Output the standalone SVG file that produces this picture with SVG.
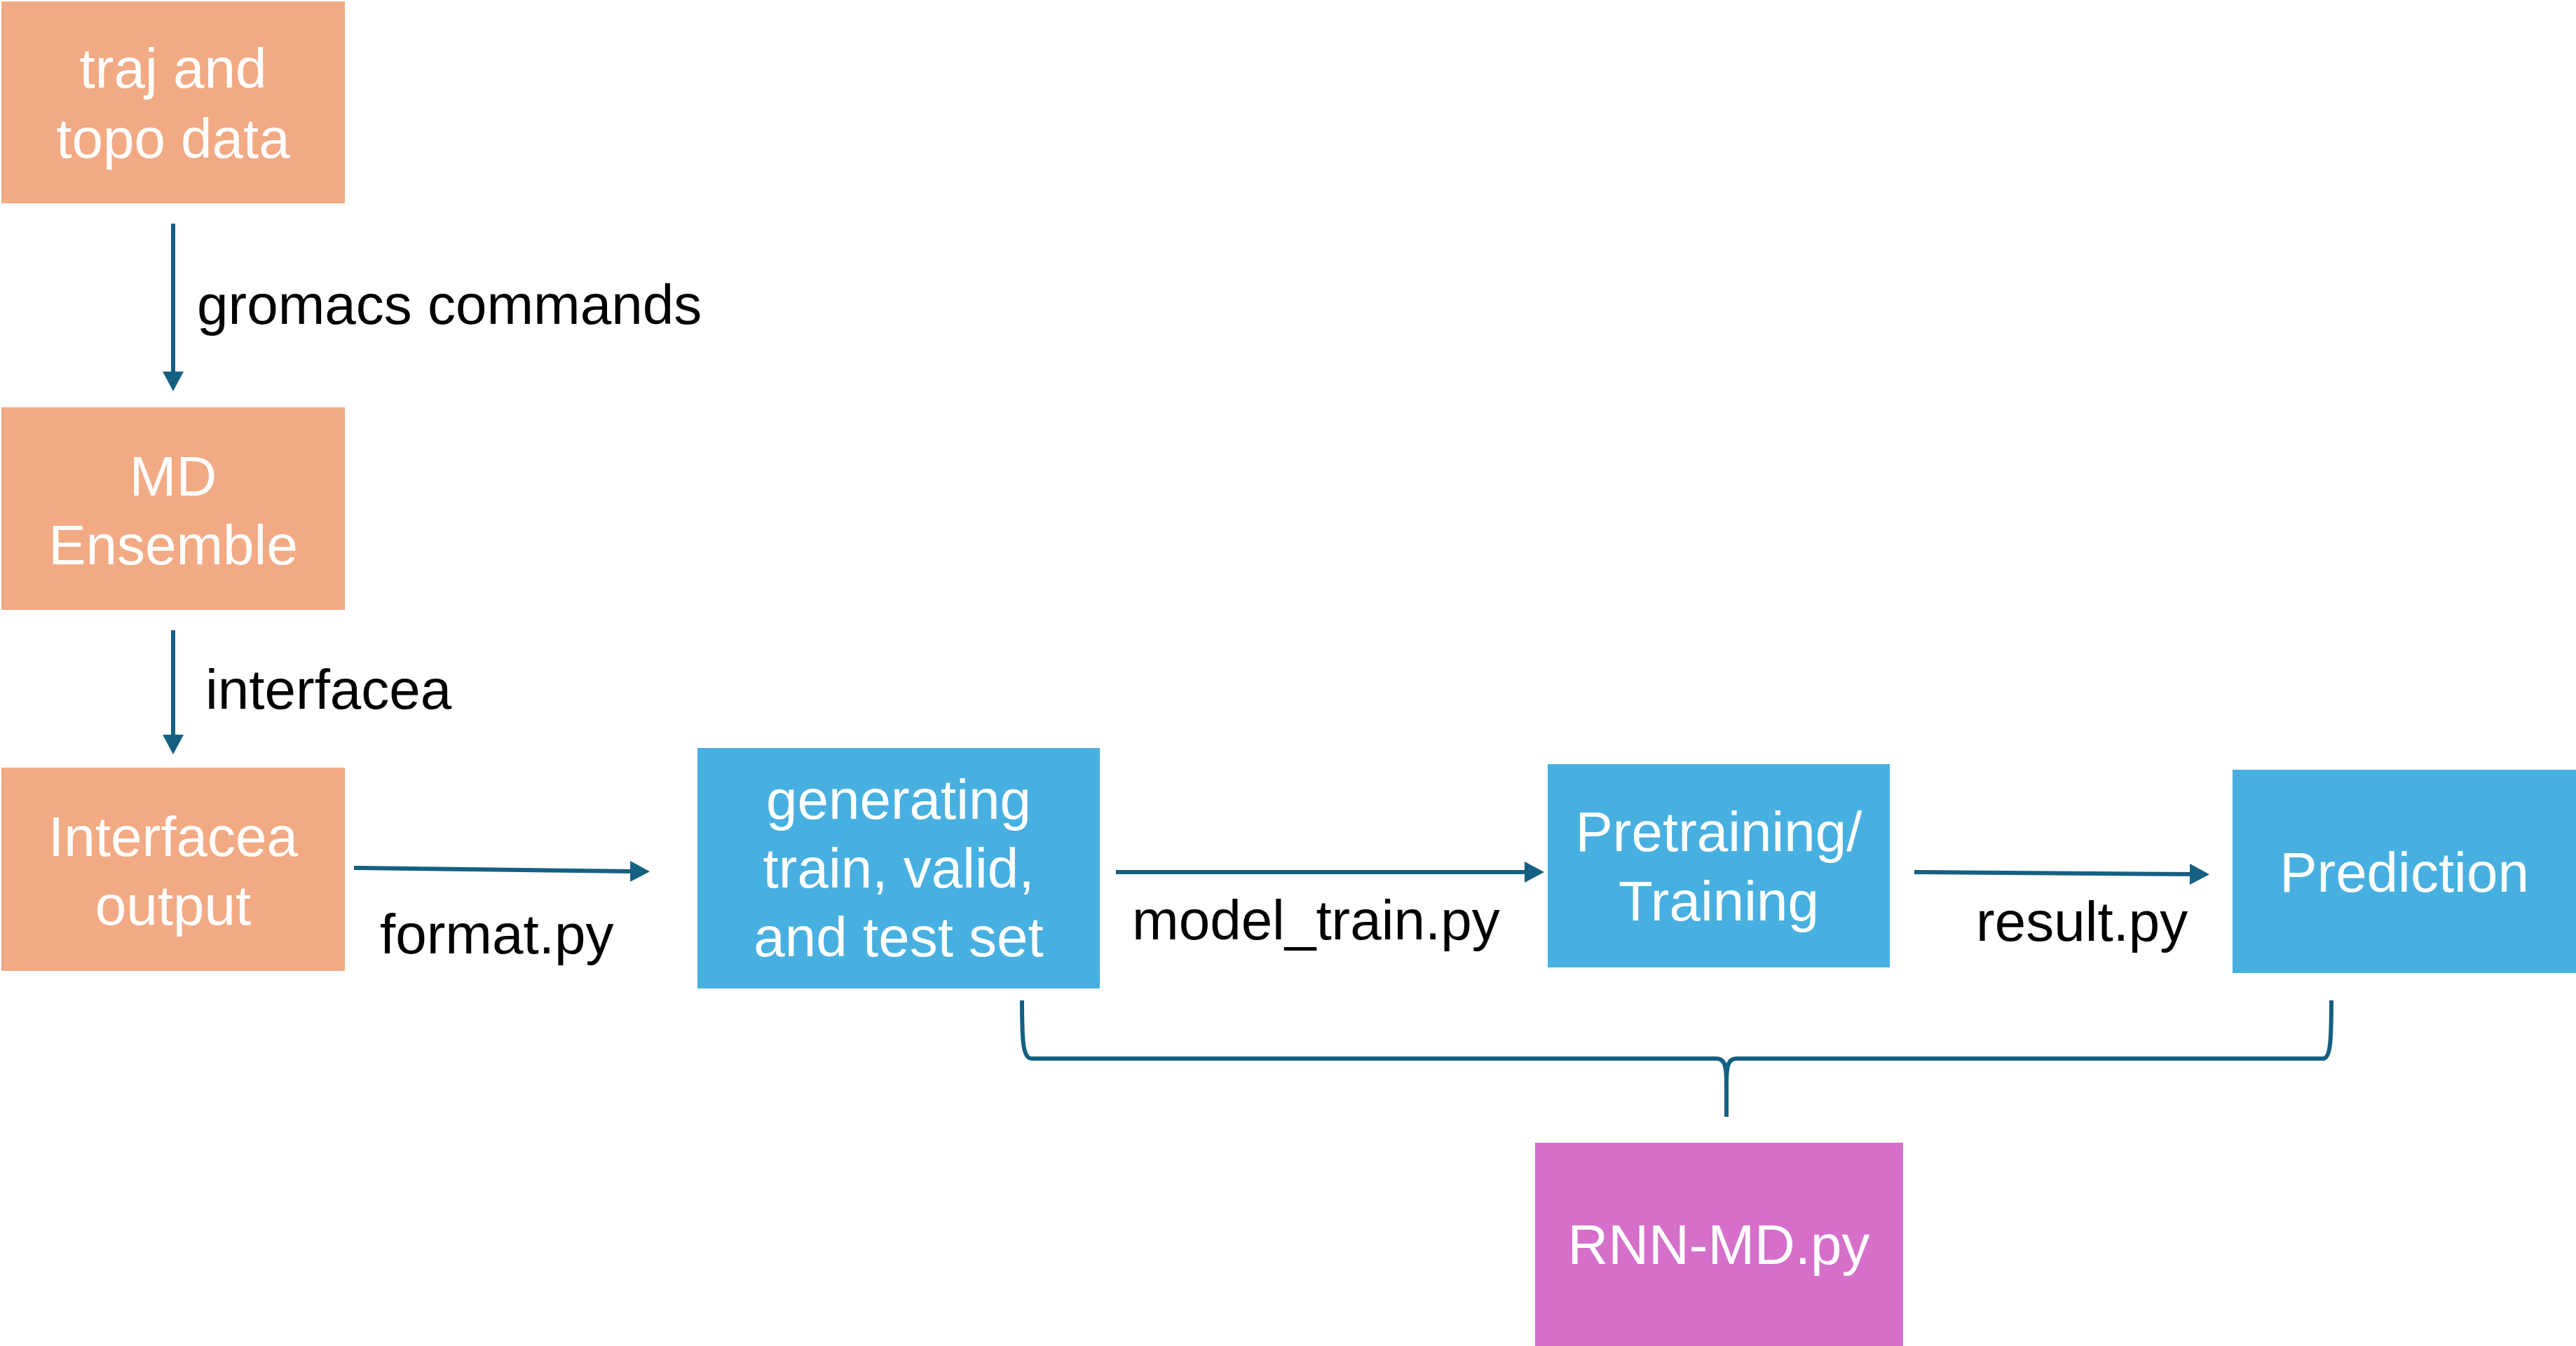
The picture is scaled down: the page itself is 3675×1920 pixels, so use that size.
<svg xmlns="http://www.w3.org/2000/svg" width="3675" height="1920" viewBox="0 0 3675 1920">
<style>
  .orange { fill: #F2AA84; }
  .blue { fill: #47B0E0; }
  .magenta { fill: #D56FCA; }
  .ntext { font-family: "Liberation Sans", Arial, sans-serif; font-size: 80px; fill: #ffffff; text-anchor: middle; }
  .ltext { font-family: "Liberation Sans", Arial, sans-serif; font-size: 80px; fill: #000000; }
  .conn { stroke: #156082; stroke-width: 6; fill: none; }
</style>
<defs>
  <marker id="arrow" markerUnits="userSpaceOnUse" viewBox="0 0 28 30" refX="6" refY="15" markerWidth="28" markerHeight="30" orient="auto">
    <path d="M0,0 L28,15 L0,30 z" fill="#156082"/>
  </marker>
</defs>
<rect width="3675" height="1920" fill="#ffffff"/>

<g id="node-traj">
  <rect class="orange" x="2" y="2" width="490" height="288"/>
  <text class="ntext" x="247" y="125">traj and</text>
  <text class="ntext" x="247" y="225">topo data</text>
</g>
<g id="node-md">
  <rect class="orange" x="2" y="581" width="490" height="289"/>
  <text class="ntext" x="247" y="707">MD</text>
  <text class="ntext" x="247" y="805">Ensemble</text>
</g>
<g id="node-interfacea">
  <rect class="orange" x="2" y="1095" width="490" height="290"/>
  <text class="ntext" x="247" y="1221">Interfacea</text>
  <text class="ntext" x="247" y="1319">output</text>
</g>
<g id="node-generating">
  <rect class="blue" x="995" y="1067" width="574" height="343"/>
  <text class="ntext" x="1282" y="1168">generating</text>
  <text class="ntext" x="1282" y="1266">train, valid,</text>
  <text class="ntext" x="1282" y="1364">and test set</text>
</g>
<g id="node-training">
  <rect class="blue" x="2208" y="1090" width="488" height="290"/>
  <text class="ntext" x="2452" y="1214">Pretraining/</text>
  <text class="ntext" x="2452" y="1313">Training</text>
</g>
<g id="node-prediction">
  <rect class="blue" x="3185" y="1098" width="490" height="290"/>
  <text class="ntext" x="3430" y="1272">Prediction</text>
</g>
<g id="node-rnn">
  <rect class="magenta" x="2190" y="1630" width="525" height="290"/>
  <text class="ntext" x="2452" y="1803">RNN-MD.py</text>
</g>

<g id="connectors">
  <line class="conn" x1="247" y1="319" x2="247" y2="536" marker-end="url(#arrow)"/>
  <line class="conn" x1="247" y1="899" x2="247" y2="1054" marker-end="url(#arrow)"/>
  <line class="conn" x1="505" y1="1238" x2="905" y2="1243" marker-end="url(#arrow)"/>
  <line class="conn" x1="1592" y1="1244" x2="2181" y2="1244" marker-end="url(#arrow)"/>
  <line class="conn" x1="2731" y1="1244" x2="3130" y2="1247" marker-end="url(#arrow)"/>
  <path class="conn" d="M1458,1427 C1458,1490 1460,1510 1472,1510 L2448,1510 C2459,1510 2463,1516 2463,1545 L2463,1593 M2463,1545 C2463,1516 2467,1510 2478,1510 L3314,1510 C3324,1510 3326,1490 3326,1427"/>
  <text class="ltext" x="281" y="462">gromacs commands</text>
  <text class="ltext" x="293" y="1011">interfacea</text>
  <text class="ltext" x="542" y="1360">format.py</text>
  <text class="ltext" x="1615" y="1340">model_train.py</text>
  <text class="ltext" x="2819" y="1342">result.py</text>
</g>
</svg>
